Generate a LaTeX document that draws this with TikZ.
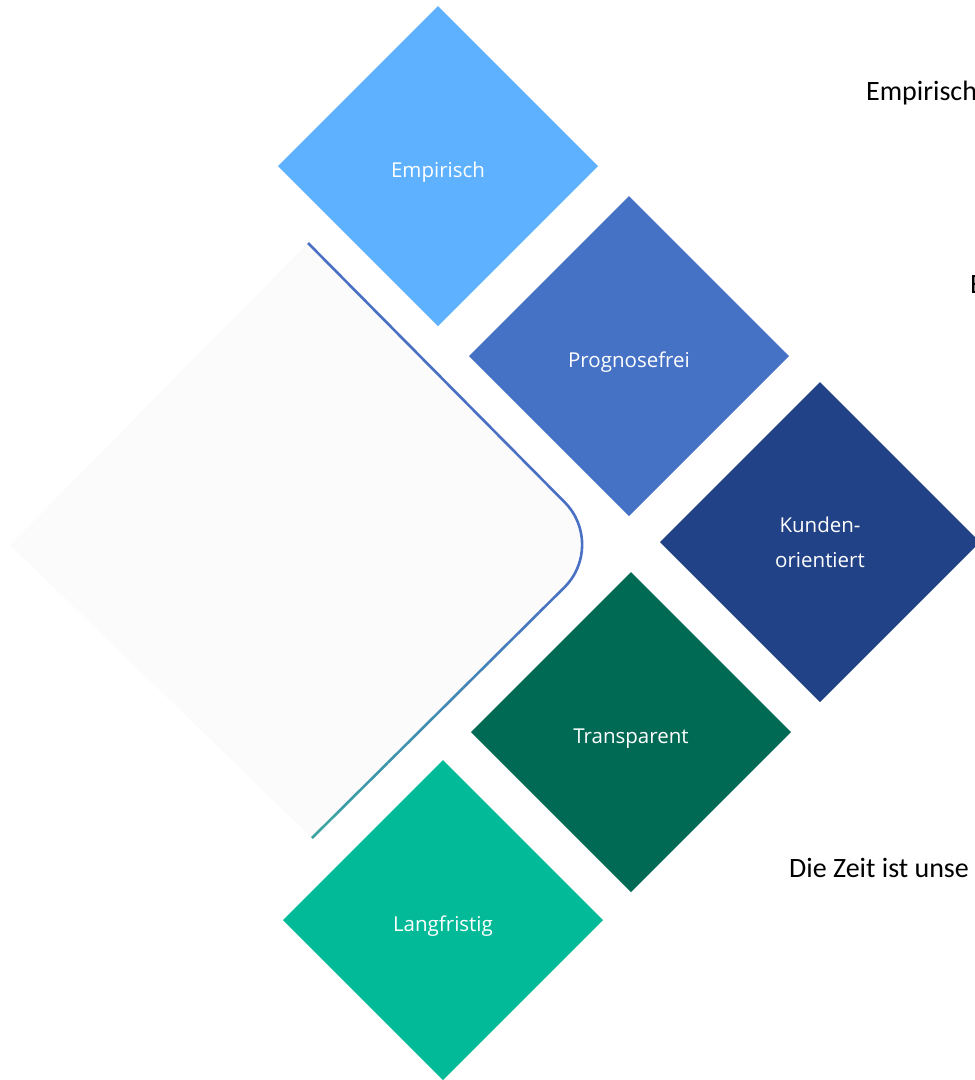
\documentclass[tikz,border=0pt]{standalone}
\usepackage{fontspec}
\newfontfamily\tilefont{Open Sans}
\newfontfamily\sidefont{Carlito}
\usetikzlibrary{shapes.geometric,calc}
\definecolor{empblue}{HTML}{5EB1FE}
\definecolor{progblue}{HTML}{4672C6}
\definecolor{kundblue}{HTML}{224287}
\definecolor{transgreen}{HTML}{006A55}
\definecolor{langgreen}{HTML}{02BA98}
\definecolor{lineblue}{HTML}{4A70C4}
\definecolor{lineteal}{HTML}{3AA6A0}
\definecolor{backfill}{HTML}{FBFBFC}

\begin{document}
\begin{tikzpicture}[x=1pt,y=-1pt,
      tile/.style={diamond, aspect=1, minimum width=320pt, minimum height=320pt, inner sep=0pt, outer sep=0pt,
        text=white, align=center, font=\tilefont\fontsize{20.5}{35}\selectfont},
      oneline/.style={text height=24pt, text depth=2pt},
      sidetext/.style={anchor=base west, inner sep=0pt, font=\sidefont\fontsize{28}{34}\selectfont},
      arrowline/.style={line width=2.6pt}
      ]
      \useasboundingbox (0,0) rectangle (975,1080);
      \coordinate (lefttip) at (10,545);
      \coordinate (linetop) at (308,243);
      \coordinate (linecorner) at (607,545);
      \coordinate (linebot) at (312,838);
      \coordinate (bendtop) at ($(linecorner)!60pt!(linetop)$);
      \coordinate (bend) at ($(linecorner)!60pt!(linebot)$);
      \coordinate (ctrltop) at ($(linecorner)!26.9pt!(linetop)$);
      \coordinate (ctrlbot) at ($(linecorner)!26.9pt!(linebot)$);
      \fill[backfill] (lefttip) -- (linetop) -- (bendtop) .. controls (ctrltop) and (ctrlbot) .. (bend) -- (linebot) -- cycle;
      \draw[arrowline, lineblue] (linetop) -- (bendtop) .. controls (ctrltop) and (ctrlbot) .. (bend);
      \foreach \i [evaluate=\i as \p using int(10*\i+5)] in {0,...,9}
        \draw[arrowline, lineteal!\p!lineblue] ($(bend)!\i/10!(linebot)$) -- ($(bend)!{(\i+1)/10}!(linebot)$);
      \node[tile, oneline, fill=empblue] (empirisch) at (438,166) {Empirisch};
      \node[tile, oneline, fill=progblue] (prognosefrei) at (629,356) {Prognosefrei};
      \node[tile, fill=kundblue] (kundenorientiert) at (820,542) {Kunden-\\orientiert};
      \node[tile, oneline, fill=transgreen] (transparent) at (631,732) {Transparent};
      \node[tile, oneline, fill=langgreen] (langfristig) at (443,920) {Langfristig};
      \node[sidetext] (sideempirisch) at (866,100) {Empirisch};
      \node[sidetext] (sidee) at (970,293) {E};
      \node[sidetext] (sidezeit) at (789,877) {Die Zeit ist unse};
    \end{tikzpicture}
\end{document}
